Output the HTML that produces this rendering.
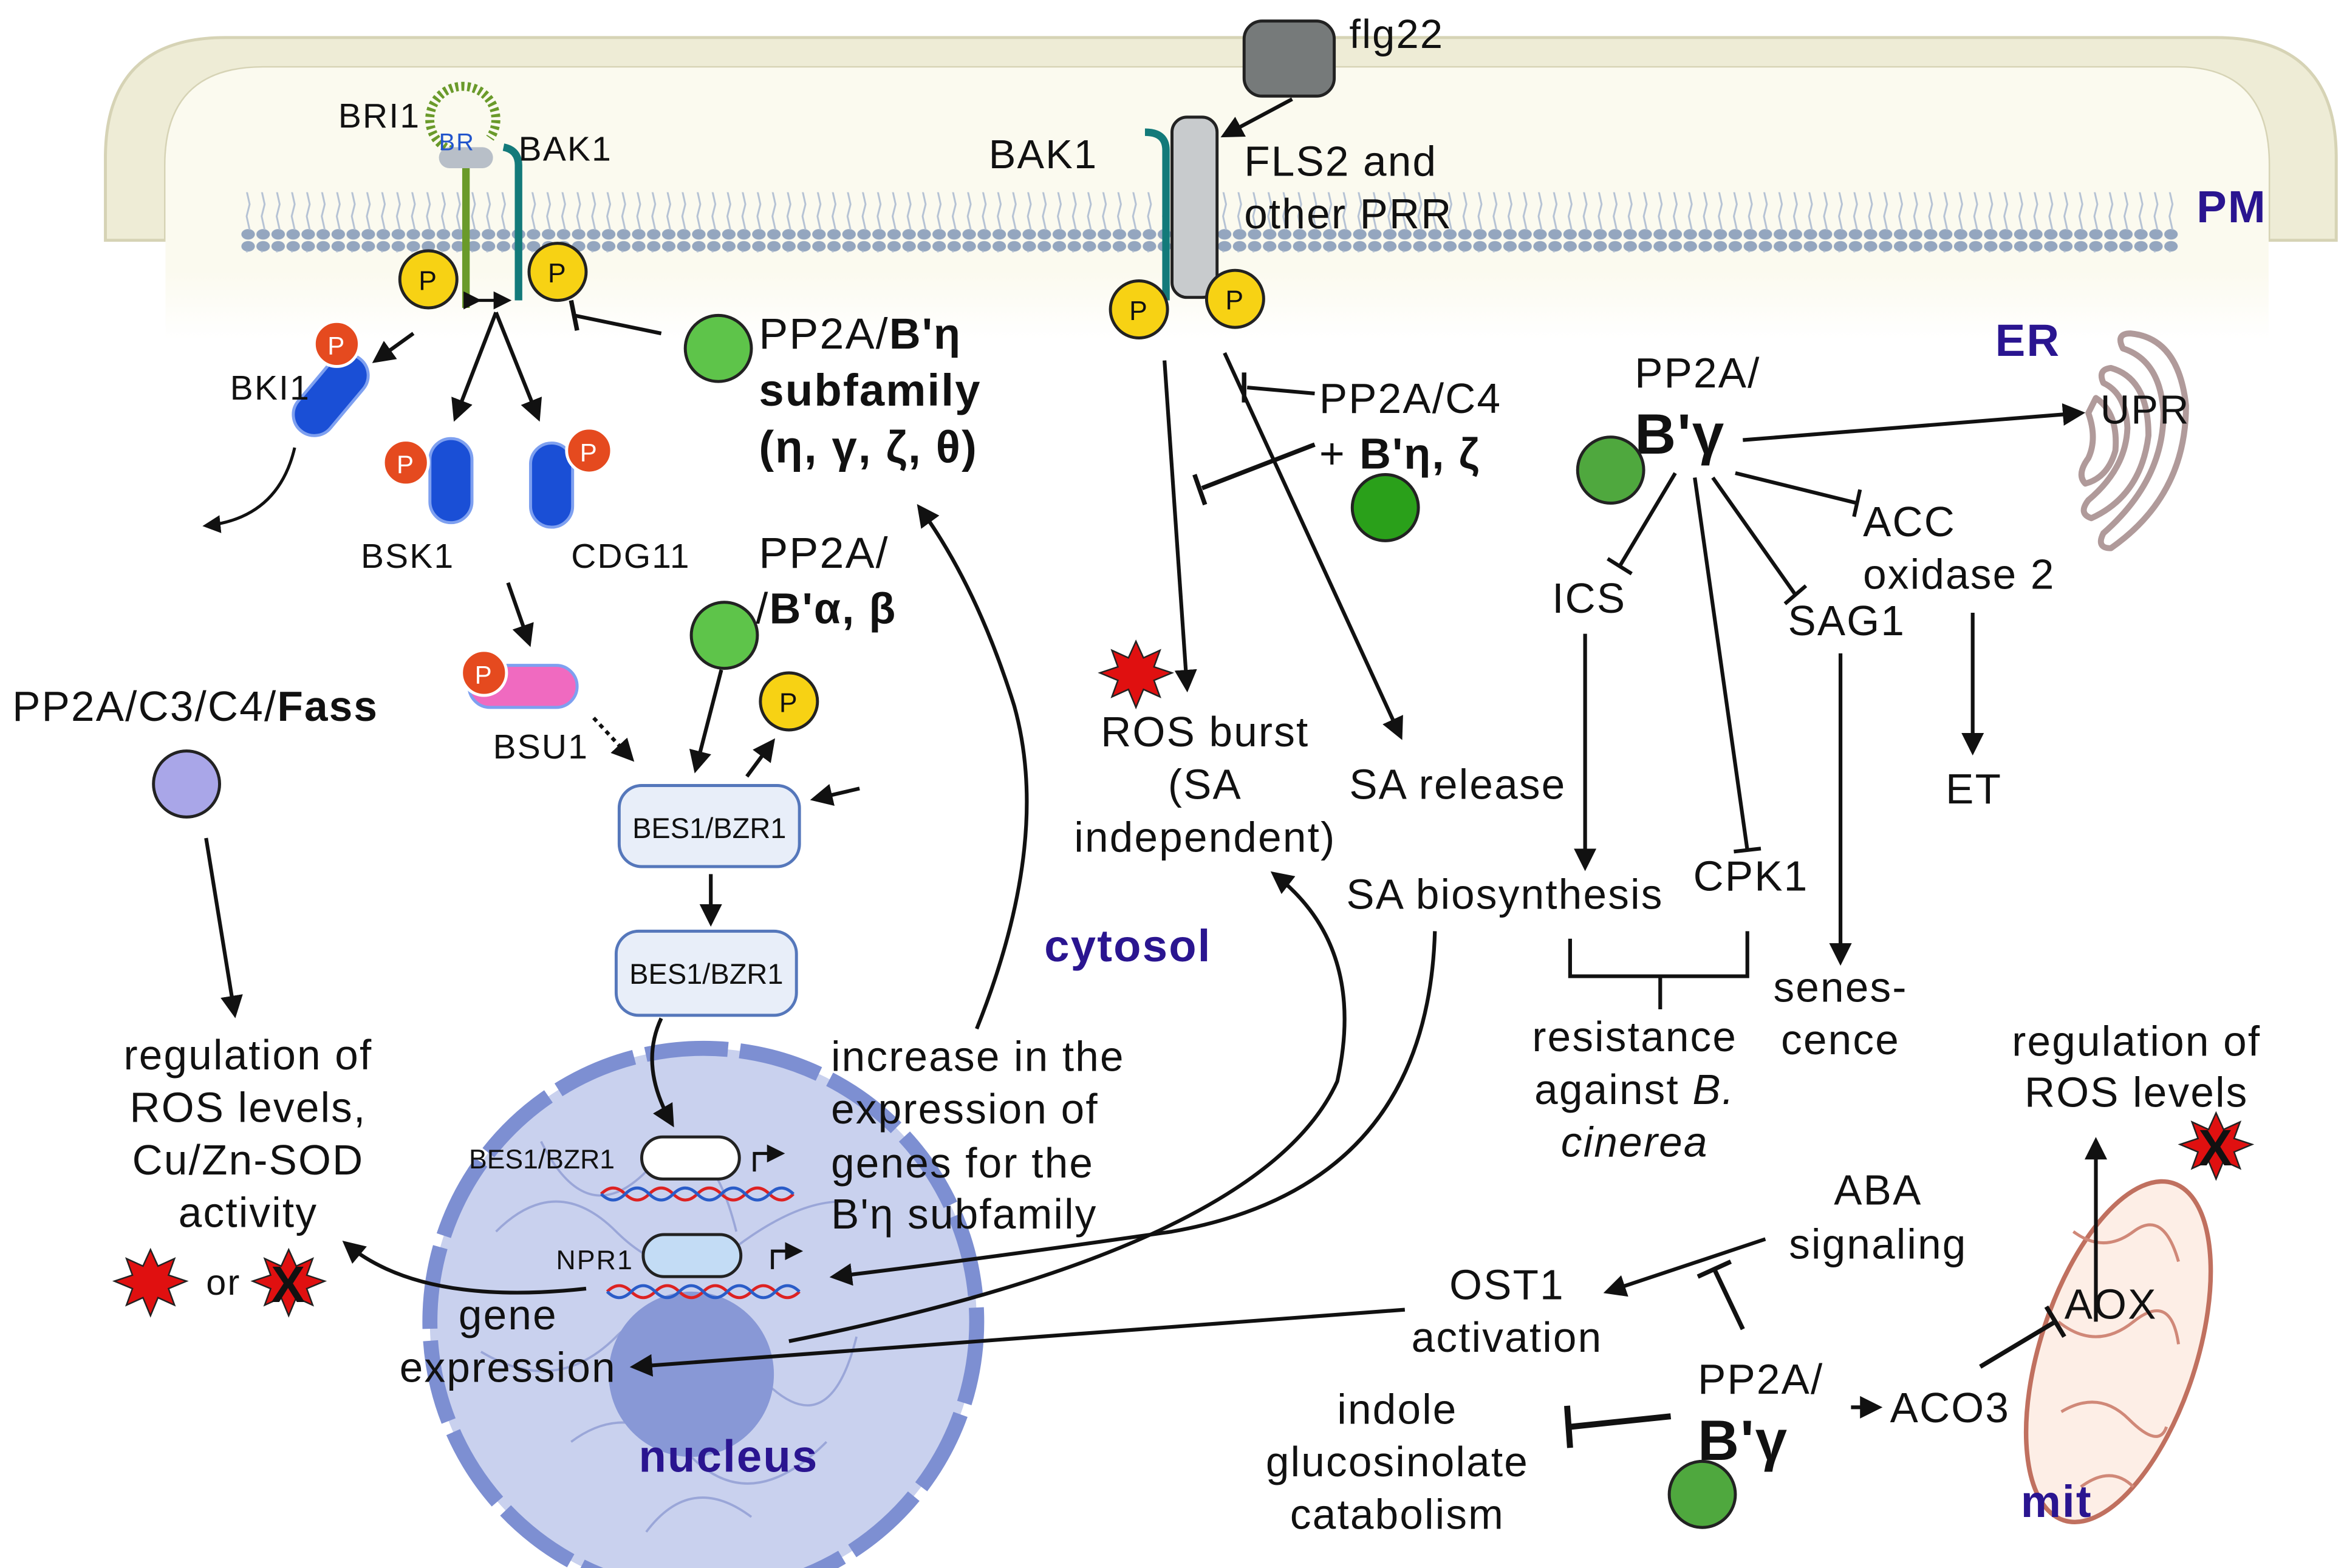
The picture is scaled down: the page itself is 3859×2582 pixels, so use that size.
<!DOCTYPE html>
<html><head><meta charset="utf-8"><style>
html,body{margin:0;padding:0;background:#fff}
svg{display:block}
text{font-family:"Liberation Sans",sans-serif;fill:#111;letter-spacing:0.9px}
.b{font-weight:bold}
.pu{fill:#2a1590;font-weight:bold}
.m{text-anchor:middle}
</style></head><body>
<svg width="3859" height="2582" viewBox="0 0 1560 1044" xmlns="http://www.w3.org/2000/svg">
<defs>
<marker id="a" viewBox="0 0 10 10" refX="8" refY="5" markerWidth="6" markerHeight="6" orient="auto"><path d="M0,0L10,5L0,10z" fill="#111"/></marker>
<linearGradient id="cr" x1="0" y1="0" x2="0" y2="1"><stop offset="0" stop-color="#fbfaef"/><stop offset="0.75" stop-color="#fbfaef"/><stop offset="1" stop-color="#ffffff"/></linearGradient>
<pattern id="lip" width="10" height="40" patternUnits="userSpaceOnUse"><ellipse cx="5" cy="4" rx="4.5" ry="3.5" fill="#94a6bf"/><ellipse cx="5" cy="36" rx="4.5" ry="3.5" fill="#94a6bf"/><path d="M4,7 L6,16 L4,24 L6,33" stroke="#b5c2d4" fill="none" stroke-width="1.2"/></pattern>
</defs>
<!-- cell membrane -->
<path d="M70,160 L70,105 Q70,25 150,25 L1475,25 Q1555,25 1555,105 L1555,160 L1510,160 L1510,110 Q1510,45 1450,45 L175,45 Q110,45 110,110 L110,160 Z" fill="#eeecd6" stroke="#d6d3b5" stroke-width="2"/>
<path d="M110,110 Q110,45 175,45 L1450,45 Q1510,45 1510,110 L1510,226 L110,226Z" fill="url(#cr)"/>
<rect x="160" y="128" width="1290" height="40" fill="url(#lip)"/>
<text x="1462" y="148" class="pu" font-size="30">PM</text>
<!-- FLS2 -->
<rect x="828" y="14" width="60" height="50" rx="12" fill="#767a7a" stroke="#222" stroke-width="2"/>
<text x="898" y="32" font-size="27">flg22</text>
<line x1="860" y1="66" x2="815" y2="90" stroke="#111" stroke-width="2.5" marker-end="url(#a)"/>
<rect x="780" y="78" width="30" height="120" rx="10" fill="#c8cbcd" stroke="#222" stroke-width="2"/>
<path d="M776,200 L776,100 Q776,88 762,88" stroke="#137a7a" stroke-width="5" fill="none"/>
<text x="658" y="112" font-size="27">BAK1</text>
<text x="828" y="117" font-size="28">FLS2 and</text>
<text x="828" y="152" font-size="28">other PRR</text>
<circle cx="758" cy="206" r="19" fill="#f7d214" stroke="#222" stroke-width="2"/><text x="758" y="213" class="m" font-size="18">P</text>
<circle cx="822" cy="199" r="19" fill="#f7d214" stroke="#222" stroke-width="2"/><text x="822" y="206" class="m" font-size="18">P</text>
<!-- BRI1 -->
<path d="M300,100 A22,22 0 1 1 326,92" stroke="#6a9a2a" stroke-width="6" fill="none" stroke-dasharray="2,2"/>
<line x1="310" y1="205" x2="310" y2="110" stroke="#6a9a2a" stroke-width="5"/>
<rect x="292" y="98" width="36" height="14" rx="7" fill="#b8bfc8"/>
<path d="M345,200 L345,110 Q345,100 335,98" stroke="#137a7a" stroke-width="5" fill="none"/>
<text x="225" y="85" font-size="23">BRI1</text>
<text x="292" y="100" font-size="16" style="fill:#2255cc">BR</text>
<text x="345" y="107" font-size="23">BAK1</text>
<circle cx="285" cy="186" r="19" fill="#f7d214" stroke="#222" stroke-width="2"/><text x="285" y="193" class="m" font-size="18">P</text>
<circle cx="371" cy="181" r="19" fill="#f7d214" stroke="#222" stroke-width="2"/><text x="371" y="188" class="m" font-size="18">P</text>
<line x1="318" y1="200" x2="338" y2="200" stroke="#111" stroke-width="2" marker-end="url(#a)" marker-start="url(#a)"/>
<line x1="330" y1="208" x2="303" y2="278" stroke="#111" stroke-width="2.5" marker-end="url(#a)"/>
<line x1="330" y1="208" x2="358" y2="278" stroke="#111" stroke-width="2.5" marker-end="url(#a)"/>
<line x1="275" y1="222" x2="250" y2="240" stroke="#111" stroke-width="2.5" marker-end="url(#a)"/>
<line x1="440" y1="222" x2="382" y2="210" stroke="#111" stroke-width="2.5"/><line x1="380" y1="200" x2="384" y2="220" stroke="#111" stroke-width="3"/>
<rect x="206" y="232" width="28" height="62" rx="14" fill="#1a4fd6" stroke="#7ea0f0" stroke-width="2" transform="rotate(40 220 263)"/>
<circle cx="224" cy="229" r="15" fill="#e54a1f" stroke="#fff" stroke-width="2"/><text x="224" y="236" class="m" font-size="17" style="fill:#fff">P</text>
<text x="153" y="266" font-size="23">BKI1</text>
<path d="M196,298 Q185,345 137,350" stroke="#111" stroke-width="2" fill="none" marker-end="url(#a)"/>
<rect x="286" y="292" width="28" height="56" rx="14" fill="#1a4fd6" stroke="#7ea0f0" stroke-width="2"/>
<circle cx="270" cy="308" r="15" fill="#e54a1f" stroke="#fff" stroke-width="2"/><text x="270" y="315" class="m" font-size="17" style="fill:#fff">P</text>
<rect x="353" y="295" width="28" height="56" rx="14" fill="#1a4fd6" stroke="#7ea0f0" stroke-width="2"/>
<circle cx="392" cy="300" r="15" fill="#e54a1f" stroke="#fff" stroke-width="2"/><text x="392" y="307" class="m" font-size="17" style="fill:#fff">P</text>
<text x="240" y="378" font-size="23">BSK1</text>
<text x="380" y="378" font-size="23">CDG11</text>
<line x1="338" y1="388" x2="352" y2="428" stroke="#111" stroke-width="2.5" marker-end="url(#a)"/>
<rect x="312" y="443" width="72" height="28" rx="14" fill="#f06ac0" stroke="#7ea0f0" stroke-width="2"/>
<circle cx="322" cy="448" r="15" fill="#e54a1f" stroke="#fff" stroke-width="2"/><text x="322" y="455" class="m" font-size="17" style="fill:#fff">P</text>
<text x="328" y="505" font-size="23">BSU1</text>
<line x1="395" y1="478" x2="420" y2="505" stroke="#111" stroke-width="2.5" stroke-dasharray="3,3" marker-end="url(#a)"/>
<!-- PP2A B'eta -->
<circle cx="478" cy="232" r="22" fill="#5ec44a" stroke="#222" stroke-width="2"/>
<text x="505" y="232" font-size="29">PP2A/<tspan class="b">B'η</tspan></text>
<text x="505" y="270" font-size="30" class="b">subfamily</text>
<text x="505" y="308" font-size="30" class="b">(η, γ, ζ, θ)</text>
<text x="505" y="378" font-size="29">PP2A/</text>
<text x="503" y="415" font-size="29">/<tspan class="b">B'α, β</tspan></text>
<circle cx="482" cy="423" r="22" fill="#5ec44a" stroke="#222" stroke-width="2"/>
<line x1="480" y1="446" x2="463" y2="512" stroke="#111" stroke-width="2.5" marker-end="url(#a)"/>
<circle cx="525" cy="467" r="19" fill="#f7d214" stroke="#222" stroke-width="2"/><text x="525" y="474" class="m" font-size="18">P</text>
<line x1="497" y1="517" x2="514" y2="494" stroke="#111" stroke-width="2.5" marker-end="url(#a)"/>
<rect x="412" y="523" width="120" height="54" rx="15" fill="#e8eef9" stroke="#5577bb" stroke-width="2"/>
<text x="472" y="558" class="m" font-size="19" style="letter-spacing:0">BES1/BZR1</text>
<line x1="572" y1="525" x2="542" y2="532" stroke="#111" stroke-width="2.5" marker-end="url(#a)"/>
<line x1="473" y1="582" x2="473" y2="614" stroke="#111" stroke-width="2.5" marker-end="url(#a)"/>
<rect x="410" y="620" width="120" height="56" rx="15" fill="#e8eef9" stroke="#5577bb" stroke-width="2"/>
<text x="470" y="655" class="m" font-size="19" style="letter-spacing:0">BES1/BZR1</text>
<!-- nucleus -->
<circle cx="468" cy="880" r="182" fill="#c9d1ee" stroke="#7d8fd2" stroke-width="10" stroke-dasharray="55,8"/>
<path d="M330,820 q40,-40 80,0 t80,10 t70,-30 M320,900 q50,30 90,-10 t90,20 t70,-20 M360,760 q30,60 70,20 t60,40 M380,960 q40,-30 80,10 t90,-10 M430,1020 q30,-40 70,-10" stroke="#9aa6d8" stroke-width="1.5" fill="none"/>
<circle cx="460" cy="915" r="55" fill="#8898d6"/>
<path d="M440,678 Q425,710 447,748" stroke="#111" stroke-width="2.5" fill="none" marker-end="url(#a)"/>
<text x="425" y="980" class="pu" font-size="30">nucleus</text>
<text x="312" y="778" font-size="18" style="letter-spacing:0">BES1/BZR1</text>
<rect x="427" y="757" width="65" height="28" rx="14" fill="#fff" stroke="#222" stroke-width="2"/>
<path d="M400,795 q8,-8 16,0 t16,0 t16,0 t16,0 t16,0 t16,0 t16,0 t16,0" stroke="#d22" stroke-width="2" fill="none"/>
<path d="M400,795 q8,8 16,0 t16,0 t16,0 t16,0 t16,0 t16,0 t16,0 t16,0" stroke="#2a5cc8" stroke-width="2" fill="none"/>
<path d="M502,780 L502,768 L520,768" stroke="#111" stroke-width="2" fill="none" marker-end="url(#a)"/>
<text x="370" y="845" font-size="18">NPR1</text>
<rect x="428" y="822" width="65" height="28" rx="14" fill="#c3dcf5" stroke="#222" stroke-width="2"/>
<path d="M404,860 q8,-8 16,0 t16,0 t16,0 t16,0 t16,0 t16,0 t16,0 t16,0" stroke="#d22" stroke-width="2" fill="none"/>
<path d="M404,860 q8,8 16,0 t16,0 t16,0 t16,0 t16,0 t16,0 t16,0 t16,0" stroke="#2a5cc8" stroke-width="2" fill="none"/>
<path d="M514,845 L514,833 L532,833" stroke="#111" stroke-width="2" fill="none" marker-end="url(#a)"/>
<text x="338" y="885" class="m" font-size="28">gene</text>
<text x="338" y="920" class="m" font-size="28">expression</text>
<!-- left -->
<text x="8" y="480" font-size="28">PP2A/C3/C4/<tspan class="b">Fass</tspan></text>
<circle cx="124" cy="522" r="22" fill="#a9a6e8" stroke="#222" stroke-width="2"/>
<line x1="137" y1="558" x2="156" y2="675" stroke="#111" stroke-width="2.5" marker-end="url(#a)"/>
<text x="165" y="712" class="m" font-size="28">regulation of</text>
<text x="165" y="747" class="m" font-size="28">ROS levels,</text>
<text x="165" y="782" class="m" font-size="28">Cu/Zn-SOD</text>
<text x="165" y="817" class="m" font-size="28">activity</text>
<polygon points="100,832 105,843 116,838 112,849 124,853 112,858 116,869 105,864 100,876 95,864 84,869 88,858 76,853 88,849 84,838 95,843" fill="#e01010" stroke="#222"/>
<text x="137" y="862" font-size="24">or</text>
<polygon points="192,832 197,843 208,838 204,849 216,853 204,858 208,869 197,864 192,876 187,864 176,869 180,858 168,853 180,849 176,838 187,843" fill="#e01010" stroke="#222"/>
<text x="192" y="867" class="m b" font-size="34">X</text>
<path d="M390,858 Q280,870 230,828" stroke="#111" stroke-width="2.5" fill="none" marker-end="url(#a)"/>
<text x="553" y="713" font-size="28">increase in the</text>
<text x="553" y="748" font-size="28">expression of</text>
<text x="553" y="784" font-size="28">genes for the</text>
<text x="553" y="818" font-size="28">B'η subfamily</text>
<path d="M650,685 Q700,560 675,470 Q650,390 612,338" stroke="#111" stroke-width="2.5" fill="none" marker-end="url(#a)"/>
<!-- middle -->
<line x1="775" y1="240" x2="790" y2="458" stroke="#111" stroke-width="2.5" marker-end="url(#a)"/>
<line x1="815" y1="235" x2="932" y2="490" stroke="#111" stroke-width="2.5" marker-end="url(#a)"/>
<line x1="875" y1="262" x2="830" y2="258" stroke="#111" stroke-width="2.5"/><line x1="828" y1="248" x2="828" y2="268" stroke="#111" stroke-width="3"/>
<text x="878" y="275" font-size="28">PP2A/C4</text>
<text x="878" y="312" font-size="29">+ <tspan class="b">B'η, ζ</tspan></text>
<line x1="875" y1="296" x2="800" y2="325" stroke="#111" stroke-width="3"/><line x1="795" y1="316" x2="802" y2="336" stroke="#111" stroke-width="3"/>
<circle cx="922" cy="338" r="22" fill="#2aa01a" stroke="#222" stroke-width="2"/>
<polygon points="756,427 761,438 772,433 768,444 780,448 768,453 772,464 761,459 756,471 751,459 740,464 744,453 732,448 744,444 740,433 751,438" fill="#e01010" stroke="#222"/>
<text x="802" y="497" class="m" font-size="28">ROS burst</text>
<text x="802" y="532" class="m" font-size="28">(SA</text>
<text x="802" y="567" class="m" font-size="28">independent)</text>
<text x="898" y="532" font-size="28">SA release</text>
<text x="695" y="640" class="pu" font-size="30">cytosol</text>
<text x="896" y="605" font-size="28">SA biosynthesis</text>
<text x="1127" y="593" font-size="28">CPK1</text>
<path d="M955,620 Q950,790 780,820 Q640,840 555,850" stroke="#111" stroke-width="2.5" fill="none" marker-end="url(#a)"/>
<line x1="935" y1="872" x2="422" y2="910" stroke="#111" stroke-width="2.5" marker-end="url(#a)"/>
<path d="M525,893 Q840,830 890,720 Q910,630 848,582" stroke="#111" stroke-width="2.5" fill="none" marker-end="url(#a)"/>
<!-- right -->
<text x="1088" y="258" font-size="28">PP2A/</text>
<text x="1088" y="302" class="b" font-size="38">B'γ</text>
<circle cx="1072" cy="313" r="22" fill="#4fa83e" stroke="#222" stroke-width="2"/>
<line x1="1160" y1="293" x2="1385" y2="275" stroke="#111" stroke-width="2.5" marker-end="url(#a)"/>
<text x="1328" y="237" class="pu" font-size="30">ER</text>
<g fill="#fff" stroke="#b09a9a" stroke-width="4" stroke-linejoin="round">
<path d="M1418,222 Q1450,225 1455,270 Q1455,330 1405,365 Q1395,365 1400,355 Q1440,320 1440,275 Q1438,240 1413,232 Q1408,222 1418,222Z"/>
<path d="M1405,245 Q1430,252 1430,290 Q1425,330 1392,345 Q1383,342 1390,333 Q1415,312 1416,285 Q1415,262 1400,255 Q1396,246 1405,245Z"/>
<path d="M1395,265 Q1410,275 1408,300 Q1403,318 1388,322 Q1382,316 1390,305 Q1396,292 1390,275Z"/>
</g>
<text x="1398" y="282" font-size="27">UPR</text>
<line x1="1115" y1="315" x2="1078" y2="377" stroke="#111" stroke-width="2.5"/><line x1="1070" y1="372" x2="1086" y2="382" stroke="#111" stroke-width="2.5"/>
<text x="1033" y="408" font-size="28">ICS</text>
<line x1="1128" y1="318" x2="1163" y2="566" stroke="#111" stroke-width="2.5"/><line x1="1154" y1="567" x2="1172" y2="565" stroke="#111" stroke-width="2.5"/>
<line x1="1140" y1="318" x2="1195" y2="396" stroke="#111" stroke-width="2.5"/><line x1="1188" y1="402" x2="1202" y2="390" stroke="#111" stroke-width="2.5"/>
<text x="1190" y="423" font-size="28">SAG1</text>
<line x1="1155" y1="315" x2="1236" y2="335" stroke="#111" stroke-width="2.5"/><line x1="1238" y1="326" x2="1234" y2="344" stroke="#111" stroke-width="2.5"/>
<text x="1240" y="357" font-size="28">ACC</text>
<text x="1240" y="392" font-size="28">oxidase 2</text>
<line x1="1055" y1="422" x2="1055" y2="577" stroke="#111" stroke-width="2.5" marker-end="url(#a)"/>
<line x1="1225" y1="435" x2="1225" y2="640" stroke="#111" stroke-width="2.5" marker-end="url(#a)"/>
<line x1="1313" y1="408" x2="1313" y2="500" stroke="#111" stroke-width="2.5" marker-end="url(#a)"/>
<text x="1295" y="535" font-size="28">ET</text>
<path d="M1045,625 L1045,650 L1163,650 L1163,620 M1105,650 L1105,672" stroke="#111" stroke-width="2.5" fill="none"/>
<text x="1088" y="700" class="m" font-size="28">resistance</text>
<text x="1088" y="735" class="m" font-size="28">against <tspan font-style="italic">B.</tspan></text>
<text x="1088" y="770" class="m" font-size="28" font-style="italic">cinerea</text>
<text x="1225" y="667" class="m" font-size="28">senes-</text>
<text x="1225" y="702" class="m" font-size="28">cence</text>
<text x="1422" y="703" class="m" font-size="28">regulation of</text>
<text x="1422" y="737" class="m" font-size="28">ROS levels</text>
<ellipse cx="1410" cy="900" rx="52" ry="118" transform="rotate(18 1410 900)" fill="#fdeee6" stroke="#c0705f" stroke-width="3"/>
<path d="M1380,820 q20,15 40,0 t30,20 M1370,880 q25,20 50,0 t30,15 M1372,940 q25,-15 45,5 t25,5 M1385,990 q20,-15 35,0" stroke="#d08878" stroke-width="2" fill="none"/>
<polygon points="1475,741 1480,752 1491,747 1487,758 1499,762 1487,767 1491,778 1480,773 1475,785 1470,773 1459,778 1463,767 1451,762 1463,758 1459,747 1470,752" fill="#e01010" stroke="#222"/>
<text x="1475" y="776" class="m b" font-size="34">X</text>
<line x1="1395" y1="880" x2="1395" y2="760" stroke="#111" stroke-width="2.5" marker-end="url(#a)"/>
<text x="1405" y="878" class="m" font-size="28">AOX</text>
<text x="1345" y="1010" class="pu" font-size="30">mit</text>
<text x="1250" y="802" class="m" font-size="28">ABA</text>
<text x="1250" y="838" class="m" font-size="28">signaling</text>
<line x1="1175" y1="825" x2="1070" y2="860" stroke="#111" stroke-width="2.5" marker-end="url(#a)"/>
<line x1="1160" y1="885" x2="1141" y2="845" stroke="#111" stroke-width="3"/><line x1="1130" y1="850" x2="1152" y2="840" stroke="#111" stroke-width="3"/>
<text x="1003" y="865" class="m" font-size="28">OST1</text>
<text x="1003" y="900" class="m" font-size="28">activation</text>
<text x="1130" y="928" font-size="28">PP2A/</text>
<text x="1130" y="972" class="b" font-size="38">B'γ</text>
<circle cx="1133" cy="995" r="22" fill="#4fa83e" stroke="#222" stroke-width="2"/>
<line x1="1232" y1="937" x2="1250" y2="937" stroke="#111" stroke-width="2.5" marker-end="url(#a)"/>
<text x="1258" y="947" font-size="28">ACO3</text>
<line x1="1318" y1="910" x2="1368" y2="880" stroke="#111" stroke-width="3"/><line x1="1362" y1="870" x2="1374" y2="890" stroke="#111" stroke-width="3"/>
<line x1="1112" y1="943" x2="1045" y2="950" stroke="#111" stroke-width="4"/><line x1="1043" y1="936" x2="1045" y2="964" stroke="#111" stroke-width="4"/>
<text x="930" y="948" class="m" font-size="28">indole</text>
<text x="930" y="983" class="m" font-size="28">glucosinolate</text>
<text x="930" y="1018" class="m" font-size="28">catabolism</text>
</svg>
</body></html>
